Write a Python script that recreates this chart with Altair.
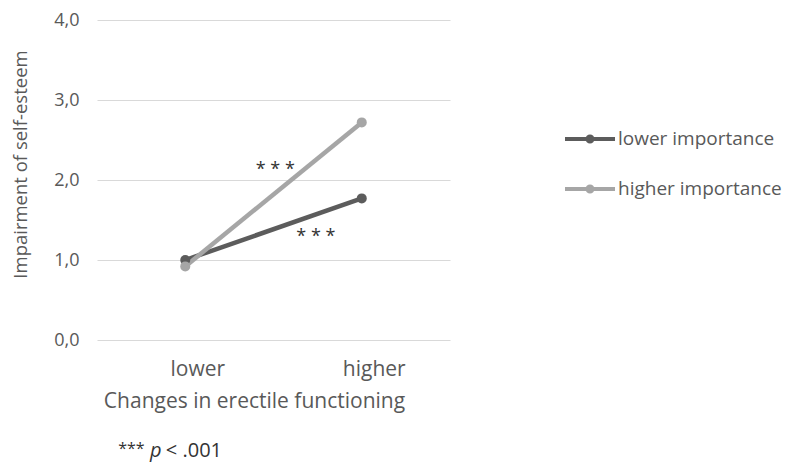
import altair as alt
import pandas as pd

categories = ["lower", "higher"]
series = ["lower importance", "higher importance"]
lower_importance = [1.00, 1.77]
higher_importance = [0.92, 2.72]

ann_text = ["* * *", "* * *"]
ann_x = [0.51, 0.74]
ann_y = [2.19, 1.35]

foot_stars = ["***"]
foot_p = ["p"]
foot_rest = ["< .001"]

rows = []
for i, c in enumerate(categories):
    rows.append({"pos": i, "cat": c, "series": series[0], "value": lower_importance[i]})
    rows.append({"pos": i, "cat": c, "series": series[1], "value": higher_importance[i]})
df = pd.DataFrame(rows)

ann = pd.DataFrame({"x": ann_x, "y": ann_y, "t": ann_text})
foot1 = pd.DataFrame({"x": [-0.38], "y": [-1.46], "t": foot_stars})
foot2 = pd.DataFrame({"x": [-0.2], "y": [-1.46], "t": foot_p})
foot3 = pd.DataFrame({"x": [-0.11], "y": [-1.46], "t": foot_rest})

FONT = "Open Sans"
TXT = "#595959"

x_enc = alt.X("pos:Q", scale=alt.Scale(domain=[-0.5, 1.5], nice=False, zero=False),
              axis=alt.Axis(values=[0, 1], labelExpr="datum.value == 0 ? 'lower' : 'higher'",
                            grid=False, domain=False, ticks=False,
                            labelBaseline="alphabetic", labelPadding=35, labelOffset=12,
                            labelFontSize=21, labelColor=TXT, labelFont=FONT,
                            title="Changes in erectile functioning", titleFontSize=21,
                            titleFontWeight="normal", titleColor=TXT, titleFont=FONT,
                            titleX=157, titleY=67, titleBaseline="alphabetic",
                            titleAlign="center"))
y_enc = alt.Y("value:Q", scale=alt.Scale(domain=[0, 4], nice=False),
              axis=alt.Axis(values=[0, 1, 2, 3, 4],
                            labelExpr="replace(format(datum.value, '.1f'), '.', ',')",
                            grid=True, gridColor="#d9d9d9", domain=False, ticks=False,
                            labelPadding=18, labelFontSize=18, labelColor=TXT, labelFont=FONT,
                            title="Impairment of self-esteem", titleFontSize=18.5,
                            titleFontWeight="normal", titleColor=TXT, titleFont=FONT,
                            titleX=-77, titleY=144, titleAlign="center",
                            titleBaseline="middle", titleAngle=270))

color = alt.Color("series:N", scale=alt.Scale(domain=series, range=["#5c5c5c", "#a6a6a6"]),
                  legend=alt.Legend(title=None, orient="none", legendX=466, legendY=92,
                                    symbolType="M-1,0H1M-0.1,0A0.1,0.1 0 1,1 0.1,0A0.1,0.1 0 1,1 -0.1,0",
                                    symbolSize=2500, symbolStrokeWidth=4,
                                    labelFontSize=19, labelColor=TXT, labelFont=FONT,
                                    labelLimit=400, labelOffset=1, rowPadding=12))

base = alt.Chart(df)
lines = base.mark_line(strokeWidth=4.5).encode(x=x_enc, y=y_enc, color=color,
                                               order=alt.Order("pos:Q"))
points = base.mark_point(filled=True, size=100, opacity=1).encode(
    x="pos:Q", y="value:Q", color=alt.Color("series:N", legend=None))

ann_layer = alt.Chart(ann).mark_text(font=FONT, fontSize=18, color="#333333",
                                     baseline="middle", dy=5).encode(
    x="x:Q", y="y:Q", text="t:N")

foot_layer1 = alt.Chart(foot1).mark_text(font=FONT, fontSize=16, color="#333333", align="left",
                                          baseline="alphabetic", dy=-3).encode(
    x="x:Q", y="y:Q", text="t:N")
foot_layer2 = alt.Chart(foot2).mark_text(font=FONT, fontSize=20, color="#333333", align="left",
                                          baseline="alphabetic", fontStyle="italic").encode(
    x="x:Q", y="y:Q", text="t:N")
foot_layer3 = alt.Chart(foot3).mark_text(font=FONT, fontSize=20, color="#333333", align="left",
                                          baseline="alphabetic").encode(
    x="x:Q", y="y:Q", text="t:N")

chart = alt.layer(lines, points, ann_layer, foot_layer1, foot_layer2, foot_layer3).properties(
    width=353, height=320,
    background="white",
    autosize=alt.AutoSizeParams(type="none"),
    padding={"left": 89, "top": 12, "right": 338, "bottom": 122},
).configure_view(stroke=None)

chart.save("out.html", embed_options={"renderer": "svg", "actions": False})
